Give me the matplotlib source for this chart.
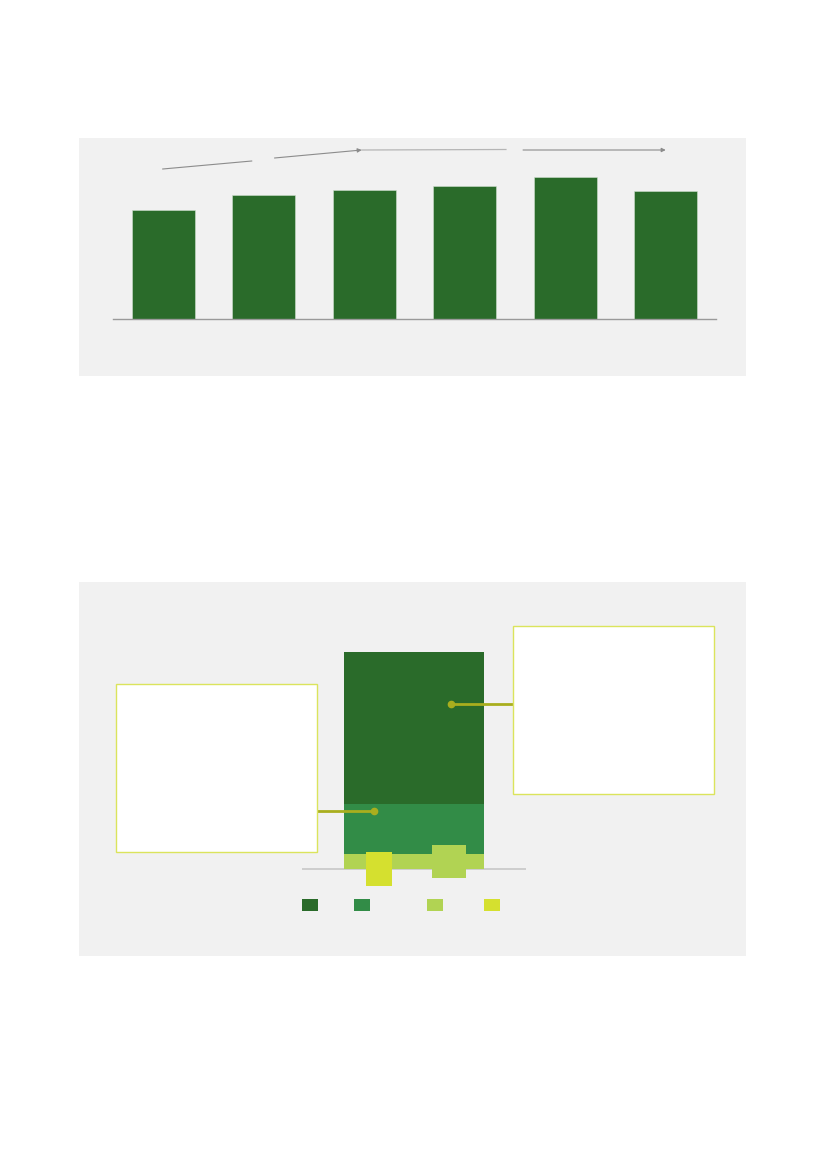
import matplotlib
matplotlib.use("Agg")
import matplotlib.pyplot as plt
from matplotlib.patches import Rectangle

# ---------------- data ----------------
top_categories = ["1", "2", "3", "4", "5", "6"]
top_values = [109, 124, 129, 133, 142, 128]

stack_segments = ["Segment A", "Segment B", "Segment C"]
stack_values = [15, 50, 152]          # bottom -> top
stack_colors = ["#b1d353", "#328c47", "#2a6b2a"]

overlay_labels = ["Yellow", "Light"]
overlay_x = [-0.25, 0.25]
overlay_bottom = [-17, -9]
overlay_height = [34, 33]
overlay_width = [0.186, 0.243]
overlay_colors = ["#d5e02f", "#b1d353"]

legend_colors = ["#2a6b2a", "#328c47", "#b1d353", "#d5e02f"]

# ---------------- figure ----------------
W, H = 827, 1169
fig = plt.figure(figsize=(W / 100, H / 100), dpi=100)
fig.patch.set_facecolor("white")


def fbox(x0, y0, x1, y1):
    """pixel box (top-left origin) -> figure fraction rect"""
    return (x0 / W, 1 - y1 / H, (x1 - x0) / W, (y1 - y0) / H)


def add_rect(x0, y0, x1, y1, **kw):
    l, b, w, h = fbox(x0, y0, x1, y1)
    r = Rectangle((l, b), w, h, transform=fig.transFigure, **kw)
    fig.add_artist(r)
    return r


# panel backgrounds
add_rect(79, 138, 746, 376, facecolor="#f1f1f1", edgecolor="none", zorder=0)
add_rect(79, 582, 746, 956, facecolor="#f1f1f1", edgecolor="none", zorder=0)

# ---------------- top bar chart ----------------
ax1 = fig.add_axes(fbox(113, 139, 716, 319))
ax1.set_facecolor("none")
xs = list(range(len(top_values)))
ax1.bar(xs, top_values, width=0.627, color="#2a6b2a", edgecolor="#cfe0cf",
        linewidth=0.4, zorder=2)
ax1.set_xlim(-0.5, 5.5)
ax1.set_ylim(0, 180)
for s in ["top", "right", "left"]:
    ax1.spines[s].set_visible(False)
ax1.spines["bottom"].set_color("#9a9a9a")
ax1.spines["bottom"].set_linewidth(1.0)
ax1.set_xticks([])
ax1.set_yticks([])

gray = "#8c8c8c"
ax1.plot([-0.005, 0.88], [150, 158], color=gray, lw=0.8, clip_on=False)
ax1.annotate("", xy=(1.975, 169), xytext=(1.107, 161),
             arrowprops=dict(arrowstyle="-|>", color=gray, lw=0.8,
                             mutation_scale=6, shrinkA=0, shrinkB=0),
             annotation_clip=False)
ax1.plot([1.975, 3.41], [169, 169.5], color="#b5b5b5", lw=0.9, clip_on=False)
ax1.annotate("", xy=(5.0, 169), xytext=(3.58, 169),
             arrowprops=dict(arrowstyle="-|>", color=gray, lw=0.8,
                             mutation_scale=6, shrinkA=0, shrinkB=0),
             annotation_clip=False)

# ---------------- bottom stacked chart ----------------
ax2 = fig.add_axes(fbox(302, 639, 526, 899))
ax2.set_facecolor("none")
bottom = 0
for v, c in zip(stack_values, stack_colors):
    ax2.bar(0, v, bottom=bottom, width=1.0, color=c, edgecolor="none", zorder=2)
    bottom += v
for x, b, h, w, c in zip(overlay_x, overlay_bottom, overlay_height,
                         overlay_width, overlay_colors):
    ax2.bar(x, h, bottom=b, width=w, color=c, edgecolor="none", zorder=3)
ax2.axhline(0, color="#c8c8c8", lw=1.2, zorder=1)
ax2.set_xlim(-0.8, 0.8)
ax2.set_ylim(-30, 230)
for s in ax2.spines.values():
    s.set_visible(False)
ax2.set_xticks([])
ax2.set_yticks([])

# annotation boxes
box_edge = "#dbe45c"
add_rect(513, 626, 714, 794, facecolor="white", edgecolor=box_edge, lw=1.0, zorder=1)
add_rect(116, 684, 317, 852, facecolor="white", edgecolor=box_edge, lw=1.0, zorder=1)

olive = "#a9ae1e"
ax2.plot([0.264, 0.707], [165, 165], color=olive, lw=2.0, clip_on=False, zorder=5)
ax2.plot([0.264], [165], "o", color=olive, ms=4.5, clip_on=False, zorder=6)
ax2.plot([-0.286, -0.693], [58, 58], color=olive, lw=2.0, clip_on=False, zorder=5)
ax2.plot([-0.286], [58], "o", color=olive, ms=4.5, clip_on=False, zorder=6)

# legend swatches
for x0, c in zip([302, 354, 427, 484], legend_colors):
    add_rect(x0, 899, x0 + 16, 911, facecolor=c, edgecolor="none", zorder=2)

fig.savefig("out.png", dpi=100, facecolor="white")
